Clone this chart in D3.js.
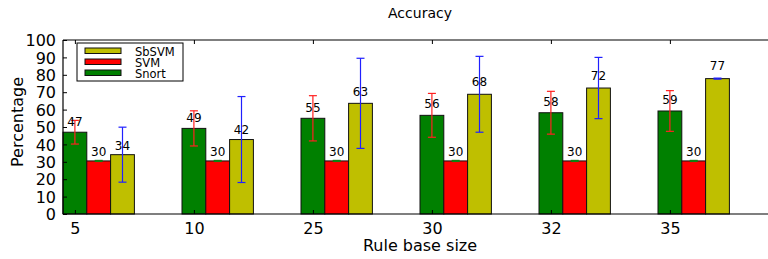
<!DOCTYPE html>
<html>
<head>
<meta charset="utf-8">
<script src="https://cdn.jsdelivr.net/npm/d3@7"></script>
<style>
  body { margin: 0; background: #fff; }
  svg { display: block; font-family: "DejaVu Sans", sans-serif; }
</style>
</head>
<body>
<div id="chart"></div>
<script>
// data
const ruleSizes = ["5", "10", "25", "30", "32", "35"];
const snort = [47.0, 49.2, 55.0, 56.7, 58.2, 59.2];
const snortErr = [6.8, 10.1, 13.0, 12.6, 12.3, 11.7];
const svm = [30.5, 30.5, 30.5, 30.5, 30.5, 30.5];
const svmErr = [0.3, 0.3, 0.3, 0.3, 0.3, 0.3];
const sbsvm = [34.1, 42.8, 63.6, 68.8, 72.4, 77.8];
const sbsvmErr = [15.8, 24.7, 25.9, 21.8, 17.6, 0.3];
const yTicks = [0, 10, 20, 30, 40, 50, 60, 70, 80, 90, 100];

const series = [
  {name: "Snort", values: snort, err: snortErr, fill: "#008000", errColor: "#ff2020", offset: 0},
  {name: "SVM", values: svm, err: svmErr, fill: "#ff0000", errColor: "#108010", offset: 0.2},
  {name: "SbSVM", values: sbsvm, err: sbsvmErr, fill: "#bfbf00", errColor: "#2020ff", offset: 0.4}
];

const W = 768, H = 259;
const margin = {top: 40, left: 63, bottom: 45};
const barW = 0.2;

const svg = d3.select("#chart")
  .append("svg")
    .attr("width", W)
    .attr("height", H);

const x = d3.scaleLinear()
  .domain([-0.1, 5.9])
  .range([margin.left, margin.left + 714]);
const y = d3.scaleLinear()
  .domain([0, 100])
  .range([H - margin.bottom, margin.top]);

// title and axis labels
svg.append("text")
  .attr("x", 420).attr("y", 18)
  .attr("text-anchor", "middle")
  .style("font-size", "14px")
  .text("Accuracy");

svg.append("text")
  .attr("x", 420).attr("y", 251)
  .attr("text-anchor", "middle")
  .style("font-size", "16px")
  .text("Rule base size");

svg.append("text")
  .attr("transform", "translate(23,122) rotate(-90)")
  .attr("text-anchor", "middle")
  .style("font-size", "16px")
  .text("Percentage");

// bars
series.forEach(function(s) {
  const g = svg.append("g").attr("class", "series-" + s.name);
  g.selectAll("rect")
    .data(s.values)
    .enter()
    .append("rect")
      .attr("x", function(d, i) { return x(i + s.offset - barW / 2); })
      .attr("y", function(d) { return y(d); })
      .attr("width", function() { return x(barW) - x(0); })
      .attr("height", function(d) { return y(0) - y(d); })
      .attr("fill", s.fill)
      .attr("stroke", "#111")
      .attr("stroke-width", 1);
});

// error bars
series.forEach(function(s) {
  const g = svg.append("g").attr("class", "err-" + s.name)
    .attr("stroke", s.errColor)
    .attr("stroke-width", 1.2);
  s.values.forEach(function(v, i) {
    const cx = x(i + s.offset);
    const lo = y(v - s.err[i]), hi = y(v + s.err[i]);
    g.append("line").attr("x1", cx).attr("x2", cx).attr("y1", lo).attr("y2", hi);
    g.append("line").attr("x1", cx - 4).attr("x2", cx + 4).attr("y1", lo).attr("y2", lo);
    g.append("line").attr("x1", cx - 4).attr("x2", cx + 4).attr("y1", hi).attr("y2", hi);
  });
});

// value labels (1.05 * height, like the original)
series.forEach(function(s) {
  svg.append("g")
    .selectAll("text")
    .data(s.values)
    .enter()
    .append("text")
      .attr("x", function(d, i) { return x(i + s.offset); })
      .attr("y", function(d) { return y(d * 1.05) - 2; })
      .attr("text-anchor", "middle")
      .style("font-size", "12px")
      .text(function(d) { return Math.floor(d); });
});

// axes (ticks point inward)
const yAxis = svg.append("g")
  .attr("transform", "translate(" + margin.left + ",0)")
  .call(d3.axisLeft(y).tickValues(yTicks).tickSize(-4).tickPadding(7));
yAxis.selectAll("text").style("font-size", "16px").attr("dy", "0.36em");

const xAxis = svg.append("g")
  .attr("transform", "translate(0," + y(0) + ")")
  .call(d3.axisBottom(x).tickValues(d3.range(ruleSizes.length))
    .tickFormat(function(d) { return ruleSizes[d]; })
    .tickSize(-4).tickPadding(8));
xAxis.selectAll("text").style("font-size", "16px").attr("dy", "0.72em");

const topAxis = svg.append("g")
  .attr("transform", "translate(0," + y(100) + ")")
  .call(d3.axisTop(x).tickValues(d3.range(ruleSizes.length)).tickSize(-4).tickFormat(""));

[yAxis, xAxis, topAxis].forEach(function(a) {
  a.select(".domain").attr("stroke", "#000").attr("stroke-width", 1.2);
  a.selectAll(".tick line").attr("stroke", "#000");
  a.selectAll("text").attr("fill", "#000").style("font-family", "DejaVu Sans, sans-serif");
});
yAxis.select(".domain").attr("d", "M0," + y(0) + "V" + y(100));
xAxis.select(".domain").attr("d", "M" + margin.left + ",0H" + x(5.9));
topAxis.select(".domain").attr("d", "M" + margin.left + ",0H" + x(5.9));

// legend
const legend = svg.append("g").attr("transform", "translate(77,43)");
legend.append("rect")
  .attr("width", 106).attr("height", 38)
  .attr("fill", "#fff").attr("stroke", "#000").attr("stroke-width", 1);
series.slice().reverse().forEach(function(s, k) {
  const row = legend.append("g").attr("transform", "translate(0," + (5 + k * 11) + ")");
  row.append("rect")
    .attr("x", 8).attr("width", 36).attr("height", 5.5)
    .attr("fill", s.fill).attr("stroke", "#111").attr("stroke-width", 1);
  row.append("text")
    .attr("x", 58).attr("y", 7.5)
    .style("font-size", "11.5px")
    .text(s.name);
});
</script>
</body>
</html>
